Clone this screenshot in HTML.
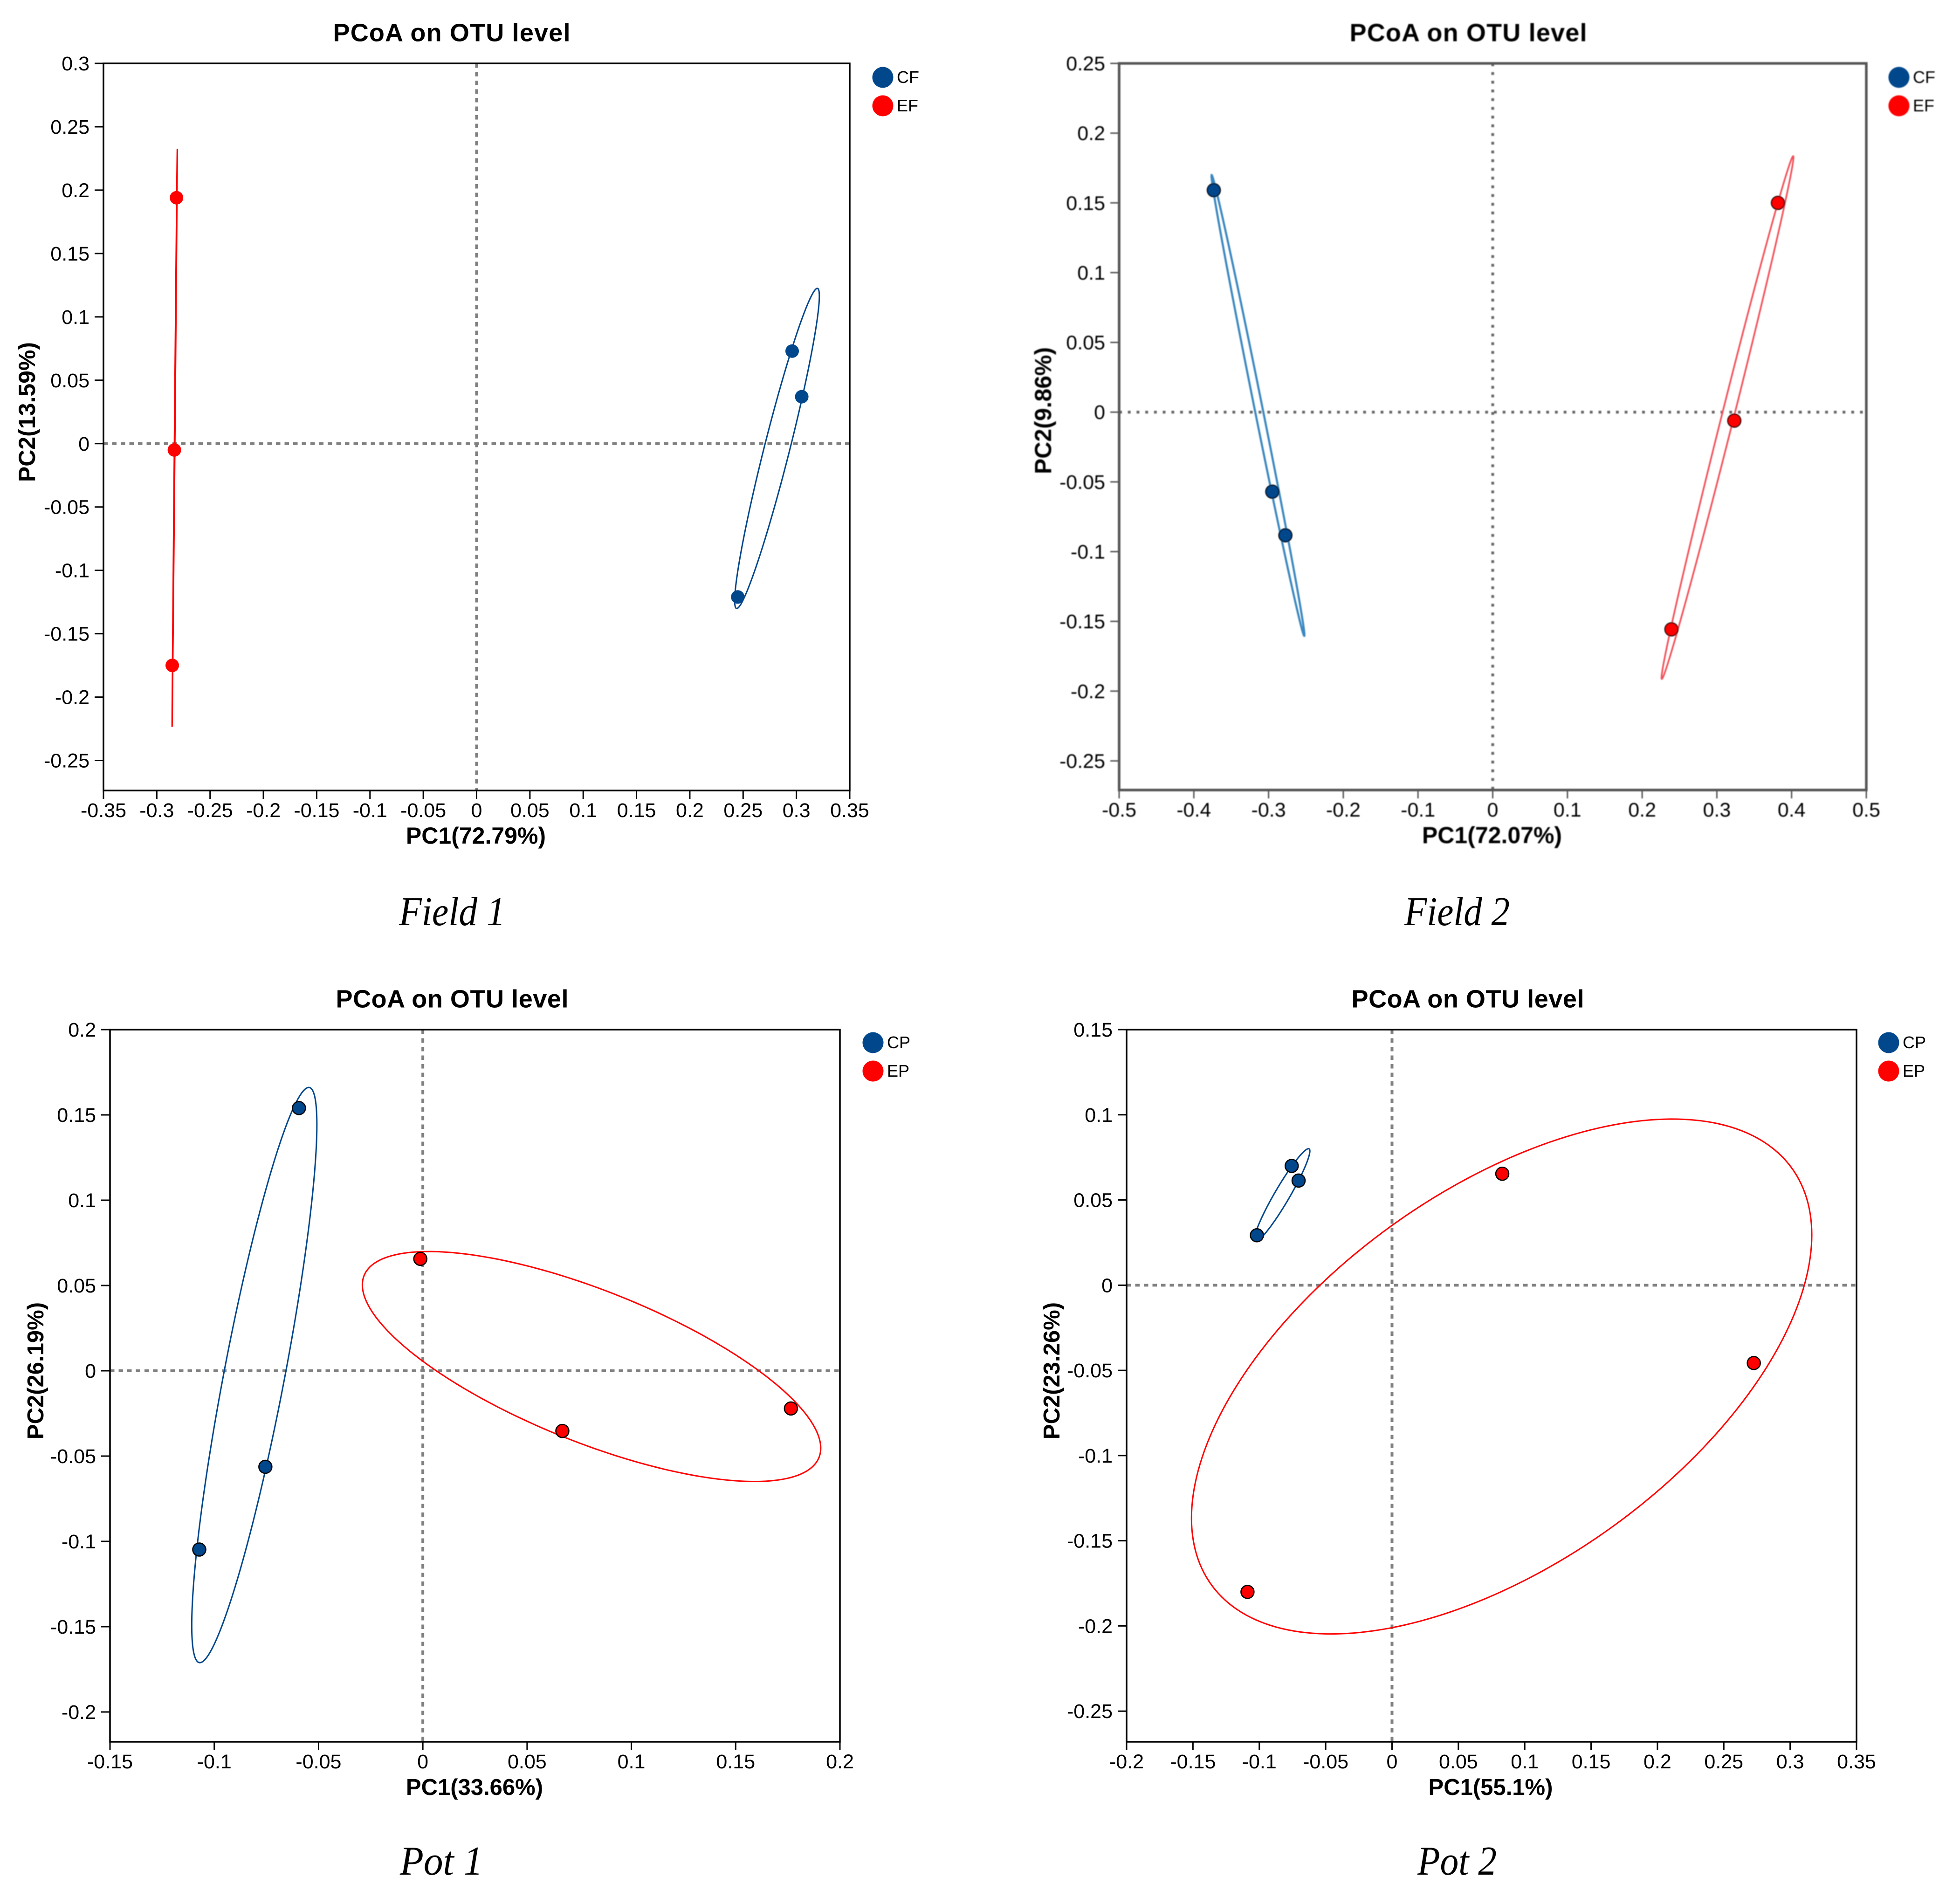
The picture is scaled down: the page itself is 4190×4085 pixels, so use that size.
<!DOCTYPE html>
<html lang="en">
<head>
<meta charset="utf-8">
<title>PCoA on OTU level – Field and Pot panels</title>
<style>
html,body{margin:0;padding:0;background:#fff;}
body{width:4190px;height:4085px;overflow:hidden;}
svg{display:block;}
text{font-family:"Liberation Sans",Arial,sans-serif;fill:#000;}
.caption{font-family:"Liberation Serif","Times New Roman",serif;font-style:italic;}
</style>
</head>
<body>
<svg id="figure" xmlns="http://www.w3.org/2000/svg" width="4190" height="4085" viewBox="0 0 4190 4085">
<defs><filter id="soft" x="-5%" y="-5%" width="110%" height="110%"><feGaussianBlur stdDeviation="1.1"/></filter></defs>
<rect x="0" y="0" width="4190" height="4085" fill="#ffffff"/>
</svg>
<script>
// ---------- Field 1 ----------
const field1XTicks = [-0.35,-0.3,-0.25,-0.2,-0.15,-0.1,-0.05,0,0.05,0.1,0.15,0.2,0.25,0.3,0.35];
const field1YTicks = [0.3,0.25,0.2,0.15,0.1,0.05,0,-0.05,-0.1,-0.15,-0.2,-0.25];
const field1XDomain = [-0.35,0.35];
const field1YDomain = [-0.2737,0.3];
const field1ControlX = [0.296,0.305,0.245];
const field1ControlY = [0.073,0.037,-0.121];
const field1TreatX = [-0.2815,-0.2835,-0.2855];
const field1TreatY = [0.194,-0.005,-0.175];
const field1ControlEllipse = [0.2818,-0.0038,0.0397,0.1263,0.951];
const field1TreatEllipse = [-0.2832,0.0046,0.00245,0.228,0.995];

// ---------- Field 2 ----------
const field2XTicks = [-0.5,-0.4,-0.3,-0.2,-0.1,0,0.1,0.2,0.3,0.4,0.5];
const field2YTicks = [0.25,0.2,0.15,0.1,0.05,0,-0.05,-0.1,-0.15,-0.2,-0.25];
const field2XDomain = [-0.5,0.5];
const field2YDomain = [-0.2709,0.25];
const field2ControlX = [-0.3733,-0.295,-0.2775];
const field2ControlY = [0.1591,-0.057,-0.0883];
const field2TreatX = [0.3817,0.3233,0.2392];
const field2TreatY = [0.15,-0.0061,-0.1557];
const field2ControlEllipse = [-0.3142,0.0048,0.0622,0.1652,-0.9962];
const field2TreatEllipse = [0.3142,-0.0039,0.0883,0.1874,0.9955];

// ---------- Pot 1 ----------
const pot1XTicks = [-0.15,-0.1,-0.05,0,0.05,0.1,0.15,0.2];
const pot1YTicks = [0.2,0.15,0.1,0.05,0,-0.05,-0.1,-0.15,-0.2];
const pot1XDomain = [-0.15,0.2];
const pot1YDomain = [-0.2175,0.2];
const pot1ControlX = [-0.0594,-0.0755,-0.1072];
const pot1ControlY = [0.154,-0.0563,-0.1048];
const pot1TreatX = [-0.0012,0.0669,0.1765];
const pot1TreatY = [0.0656,-0.0353,-0.0221];
const pot1ControlEllipse = [-0.0808,-0.0025,0.03,0.1686,0.87];
const pot1TreatEllipse = [0.0809,0.0025,0.1099,0.0674,-0.71];

// ---------- Pot 2 ----------
const pot2XTicks = [-0.2,-0.15,-0.1,-0.05,0,0.05,0.1,0.15,0.2,0.25,0.3,0.35];
const pot2YTicks = [0.15,0.1,0.05,0,-0.05,-0.1,-0.15,-0.2,-0.25];
const pot2XDomain = [-0.2,0.35];
const pot2YDomain = [-0.268,0.15];
const pot2ControlX = [-0.0756,-0.0704,-0.1018];
const pot2ControlY = [0.07,0.0614,0.0293];
const pot2TreatX = [0.0831,0.2726,-0.1089];
const pot2TreatY = [0.0654,-0.0457,-0.18];
const pot2ControlEllipse = [-0.0828,0.0529,0.0209,0.0272,0.95];
const pot2TreatEllipse = [0.0826,-0.0536,0.2337,0.1511,0.55];

const NS = 'http://www.w3.org/2000/svg';
const root = document.getElementById('figure');
const BLUE = '#00478c';
const RED = '#ff0000';

function mk(tag, parent, attrs, txt) {
  const el = document.createElementNS(NS, tag);
  for (const k in attrs) el.setAttribute(k, attrs[k]);
  if (txt !== undefined) el.textContent = txt;
  parent.appendChild(el);
  return el;
}

function ellipsePoints(e, sx, sy) {
  const [cx, cy, rx, ry, rho] = e;
  const q = Math.sqrt(1 - rho * rho);
  const out = [];
  for (let i = 0; i < 240; i++) {
    const t = i / 240 * 2 * Math.PI;
    const x = cx + rx * Math.cos(t);
    const y = cy + ry * (rho * Math.cos(t) + q * Math.sin(t));
    out.push(sx(x).toFixed(2) + ',' + sy(y).toFixed(2));
  }
  return out.join(' ');
}

function drawPanel(p) {
  const g = mk('g', root, {});
  
  
  if (p.blur) g.setAttribute('filter', 'url(#soft)');

  const sx = v => p.left + (v - p.xDomain[0]) / (p.xDomain[1] - p.xDomain[0]) * (p.right - p.left);
  const sy = v => p.bottom - (v - p.yDomain[0]) / (p.yDomain[1] - p.yDomain[0]) * (p.bottom - p.top);

  const title = mk('text', g, {x: p.titleX, y: p.top - 47.5, 'text-anchor': 'middle', 'font-size': 54, 'font-weight': 'bold', textLength: p.titleW, lengthAdjust: 'spacing'}, 'PCoA on OTU level');
  
  

  // zero reference lines
  const zeroH = mk('line', g, {x1: p.left, x2: p.right, y1: sy(0), y2: sy(0), stroke: p.zeroColor, 'stroke-width': p.zeroW, 'stroke-dasharray': p.dash});
  
  
  const zeroV = mk('line', g, {x1: sx(0), x2: sx(0), y1: p.top, y2: p.bottom, stroke: p.zeroColor, 'stroke-width': p.zeroW, 'stroke-dasharray': p.dash});
  
  

  // frame
  const frame = mk('rect', g, {x: p.left, y: p.top, width: p.right - p.left, height: p.bottom - p.top, fill: 'none', stroke: p.axisColor, 'stroke-width': p.frameW});
  
  

  // x axis ticks
  p.xTicks.forEach(v => {
    const t = mk('line', g, {x1: sx(v), x2: sx(v), y1: p.bottom, y2: p.bottom + 18, stroke: p.axisColor, 'stroke-width': 3});
    
    
    const l = mk('text', g, {x: sx(v), y: p.bottom + 57, 'text-anchor': 'middle', 'font-size': 43, fill: p.textColor}, String(v));
    
    
  });
  // y axis ticks
  p.yTicks.forEach(v => {
    const t = mk('line', g, {x1: p.left - 19, x2: p.left, y1: sy(v), y2: sy(v), stroke: p.axisColor, 'stroke-width': 3});
    
    
    const l = mk('text', g, {x: p.left - 30, y: sy(v) + 15, 'text-anchor': 'end', 'font-size': 43, fill: p.textColor}, String(v));
    
    
  });

  // axis titles
  const xt = mk('text', g, {x: p.xLabelX, y: p.bottom + 114, 'text-anchor': 'middle', 'font-size': p.labelSize, 'font-weight': 'bold'}, p.xLabel);
  
  
  const yt = mk('text', g, {transform: 'translate(' + p.yLabelX + ',' + p.yLabelY + ') rotate(-90)', 'text-anchor': 'middle', 'font-size': p.labelSize, 'font-weight': 'bold'}, p.yLabel);
  
  

  // ellipses
  const e1 = mk('polygon', g, {points: ellipsePoints(p.controlEllipse, sx, sy), fill: 'none', stroke: p.blueLine, 'stroke-width': p.blueW});
  
  
  const e2 = mk('polygon', g, {points: ellipsePoints(p.treatEllipse, sx, sy), fill: 'none', stroke: p.redLine, 'stroke-width': p.redW});
  
  

  // points
  p.controlX.forEach((v, i) => {
    const c = mk('circle', g, {cx: sx(v), cy: sy(p.controlY[i]), r: p.pointR, fill: BLUE, stroke: p.pointStroke, 'stroke-width': p.pointStrokeW});
    
    
  });
  p.treatX.forEach((v, i) => {
    const c = mk('circle', g, {cx: sx(v), cy: sy(p.treatY[i]), r: p.pointR, fill: RED, stroke: p.pointStroke, 'stroke-width': p.pointStrokeW});
    
    
  });

  // legend
  const leg = mk('g', g, {});
  
  
  p.legend.forEach((name, i) => {
    const ly = p.legendY + i * 61;
    const c = mk('circle', leg, {cx: p.legendX, cy: ly, r: 22.5, fill: i === 0 ? BLUE : RED});
    
    
    const t = mk('text', leg, {x: p.legendX + 30, y: ly + 12, 'font-size': 36, fill: p.textColor}, name);
    
    
  });

  // caption
  const cap = mk('text', root, {class: 'caption', x: p.capX, y: p.capY, 'font-size': 88, textLength: p.capW, lengthAdjust: 'spacingAndGlyphs'}, p.caption);
  
  
}

const baseStyle = {
  axisColor: '#000', textColor: '#000', frameW: 3.5, titleW: 509, labelSize: 49,
  zeroColor: '#808080', zeroW: 6, dash: '9.5 9',
  blueLine: '#00478c', redLine: '#ff0000', blueW: 3, redW: 3,
  pointR: 14, pointStroke: '#000', pointStrokeW: 2.5
};

drawPanel(Object.assign({}, baseStyle, {
  id: 'field-1', left: 222, right: 1823, top: 136, bottom: 1696, titleX: 969,
  xDomain: field1XDomain, yDomain: field1YDomain, xTicks: field1XTicks, yTicks: field1YTicks,
  controlX: field1ControlX, controlY: field1ControlY, treatX: field1TreatX, treatY: field1TreatY,
  controlEllipse: field1ControlEllipse, treatEllipse: field1TreatEllipse,
  xLabel: 'PC1(72.79%)', yLabel: 'PC2(13.59%)', xLabelX: 1021, yLabelX: 75, yLabelY: 884, labelSize: 50,
  legend: ['CF', 'EF'], legendX: 1894, legendY: 166,
  caption: 'Field 1', capX: 856, capY: 1985, capW: 228,
  pointStrokeW: 0, pointR: 14.5
}));

drawPanel(Object.assign({}, baseStyle, {
  id: 'field-2', left: 2401, right: 4004, top: 136, bottom: 1695, titleX: 3150, blur: true,
  xDomain: field2XDomain, yDomain: field2YDomain, xTicks: field2XTicks, yTicks: field2YTicks,
  controlX: field2ControlX, controlY: field2ControlY, treatX: field2TreatX, treatY: field2TreatY,
  controlEllipse: field2ControlEllipse, treatEllipse: field2TreatEllipse,
  xLabel: 'PC1(72.07%)', yLabel: 'PC2(9.86%)', xLabelX: 3201, yLabelX: 2255, yLabelY: 881, labelSize: 50,
  legend: ['CF', 'EF'], legendX: 4074, legendY: 166,
  caption: 'Field 2', capX: 3013, capY: 1985, capW: 226,
  axisColor: '#555', textColor: '#222', frameW: 5.5,
  zeroColor: '#666', zeroW: 6, dash: '6 12.7',
  blueLine: '#3a87c0', redLine: '#f25058', blueW: 4.5, redW: 3.6
}));

drawPanel(Object.assign({}, baseStyle, {
  id: 'pot-1', left: 236, right: 1802, top: 2209, bottom: 3737, titleX: 970, titleW: 499,
  xDomain: pot1XDomain, yDomain: pot1YDomain, xTicks: pot1XTicks, yTicks: pot1YTicks,
  controlX: pot1ControlX, controlY: pot1ControlY, treatX: pot1TreatX, treatY: pot1TreatY,
  controlEllipse: pot1ControlEllipse, treatEllipse: pot1TreatEllipse,
  xLabel: 'PC1(33.66%)', yLabel: 'PC2(26.19%)', xLabelX: 1018, yLabelX: 93, yLabelY: 2941,
  legend: ['CP', 'EP'], legendX: 1873, legendY: 2237,
  caption: 'Pot 1', capX: 858, capY: 4022, capW: 178
}));

drawPanel(Object.assign({}, baseStyle, {
  id: 'pot-2', left: 2417, right: 3983, top: 2209, bottom: 3737, titleX: 3149, titleW: 499,
  xDomain: pot2XDomain, yDomain: pot2YDomain, xTicks: pot2XTicks, yTicks: pot2YTicks,
  controlX: pot2ControlX, controlY: pot2ControlY, treatX: pot2TreatX, treatY: pot2TreatY,
  controlEllipse: pot2ControlEllipse, treatEllipse: pot2TreatEllipse,
  xLabel: 'PC1(55.1%)', yLabel: 'PC2(23.26%)', xLabelX: 3198, yLabelX: 2273, yLabelY: 2941,
  legend: ['CP', 'EP'], legendX: 4052, legendY: 2237,
  caption: 'Pot 2', capX: 3041, capY: 4022, capW: 170
}));
</script>
</body>
</html>
